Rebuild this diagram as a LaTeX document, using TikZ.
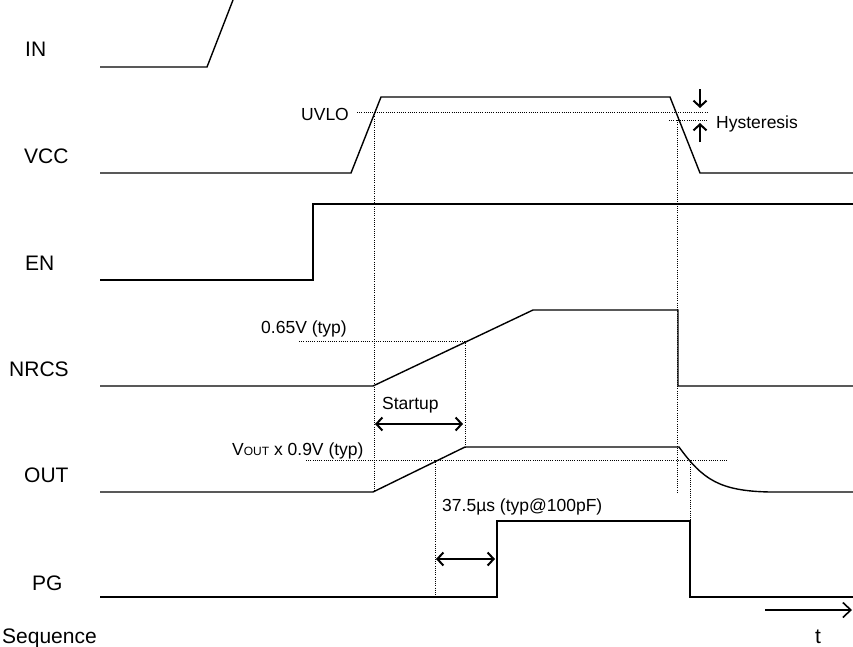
\documentclass[tikz,border=0pt]{standalone}
\usepackage{fontspec}
\setmainfont{Liberation Sans}
\usetikzlibrary{arrows.meta}
\begin{document}
\begin{tikzpicture}[x=1pt,y=-1pt,
  sig/.style={line width=1.4pt, line join=miter},
  dots/.style={line width=0.8pt, dash pattern=on 0.9pt off 1.3pt},
  lbl/.style={anchor=base west, inner sep=0pt, font=\fontsize{21}{24}\selectfont},
  note/.style={anchor=base west, inner sep=0pt, font=\fontsize{17.5}{20}\selectfont},
  dim/.style={line width=2pt, {Straight Barb[length=6pt,width=13pt]}-{Straight Barb[length=6pt,width=13pt]}},
  sarrow/.style={line width=2pt, -{Straight Barb[length=6pt,width=13pt]}}
]
\useasboundingbox (0,0) rectangle (853,646);

% labels
\node[lbl] (lIN) at (25,56) {IN};
\node[lbl] (lVCC) at (24,163) {VCC};
\node[lbl] (lEN) at (25,270) {EN};
\node[lbl] (lNRCS) at (9,376) {NRCS};
\node[lbl] (lOUT) at (24,482) {OUT};
\node[lbl] (lPG) at (32,590) {PG};
\node[lbl] (lseq) at (2,643) {Sequence};
\node[lbl] (lt) at (815,643) {t};

% notes
\node[note] (nUVLO) at (301,120) {UVLO};
\node[note] (nHys) at (716,128) {Hysteresis};
\node[note] (n065) at (261,333) {0.65V (typ)};
\node[note] (nStart) at (382,409) {Startup};
\node[note] (nVout) at (232,455) {V{\fontsize{12}{14}\selectfont OUT} x 0.9V (typ)};
\node[note] (n375) at (442,511) {37.5µs (typ@100pF)};

% dotted guides
\draw[dots] (357,112) -- (707,112);
\draw[dots] (669,120) -- (707,120);
\draw[dots] (299,341) -- (465,341);
\draw[dots] (306,460) -- (727,460);
\draw[dots] (374,112) -- (374,492);
\draw[dots] (465,341) -- (465,447);
\draw[dots] (435,460) -- (435,597);
\draw[dots] (677,120) -- (677,492);
\draw[dots] (690,460) -- (690,521);

% signals
\draw[sig] (100,67) -- (207,67) -- (233,0);
\draw[sig] (100,173) -- (351,173) -- (381,97) -- (670,97) -- (700,173) -- (853,173);
\draw[sig] (100,280) -- (313,280) -- (313,204) -- (853,204);
\draw[sig] (100,386) -- (373,386) -- (533,310) -- (678,310) -- (678,386) -- (853,386);
\draw[sig] (100,492) -- (373,492) -- (465,447) -- (679,447)
  .. controls (703,480) and (720,491) .. (770,492) -- (853,492);
\draw[sig] (100,597) -- (497,597) -- (497,521) -- (690,521) -- (690,597) -- (853,597);

% arrows
\coordinate (h1a) at (700,89);
\coordinate (h1b) at (700,108);
\coordinate (h2a) at (700,142);
\coordinate (h2b) at (700,123);
\draw[sarrow] (h1a) -- (h1b);
\draw[sarrow] (h2a) -- (h2b);
\coordinate (sa) at (375,424);
\coordinate (sb) at (463,424);
\draw[dim] (sa) -- (sb);
\coordinate (pa) at (436,559);
\coordinate (pb) at (495,559);
\draw[dim] (pa) -- (pb);
\coordinate (ta) at (765,610);
\coordinate (tb) at (852,610);
\draw[line width=1.6pt, -{Straight Barb[length=8pt,width=15pt]}] (ta) -- (tb);
\end{tikzpicture}
\end{document}
